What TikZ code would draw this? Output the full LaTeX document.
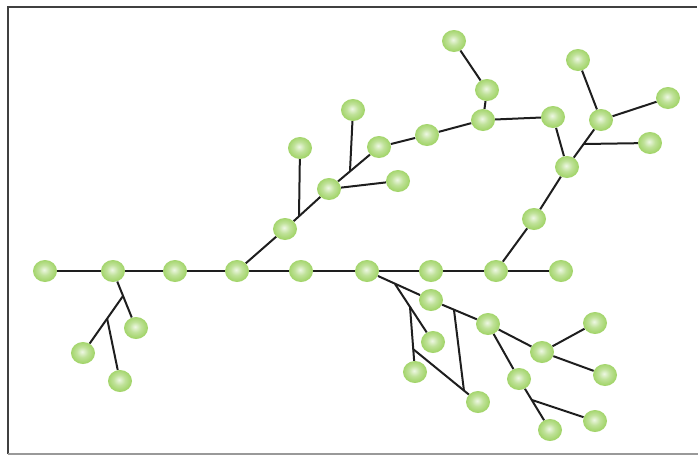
\documentclass[tikz,border=0pt]{standalone}
\usepackage{tikz}
\usetikzlibrary{shapes.geometric,backgrounds}

\definecolor{ballgreen}{RGB}{140,202,70}
\definecolor{linegray}{RGB}{30,30,30}
\pgfdeclareradialshading{greenball}{\pgfpoint{-2bp}{3bp}}{%
  color(0bp)=(white!85!ballgreen); color(12bp)=(white!45!ballgreen);
  color(30bp)=(ballgreen!92!white); color(50bp)=(ballgreen!95!black)}

\begin{document}
\begin{tikzpicture}[%
    x=1pt, y=-1pt,
    ball/.style={ellipse, minimum width=24pt, minimum height=22pt, inner sep=0pt, shading=greenball},
    link/.style={line width=2pt, draw=linegray},
    frame/.style={line width=1.4pt}
    ]

    \useasboundingbox (0,0) rectangle (698,456);

    % frame
    \draw[frame, draw=black!75] (8,454) -- (8,7) -- (697,7);
    \draw[frame, draw=black!40] (8,454) -- (698,454);

    % main line
    \node[ball] (a1) at (45,271) {};
    \node[ball] (a2) at (113,271) {};
    \node[ball] (a3) at (175,271) {};
    \node[ball] (a4) at (237,271) {};
    \node[ball] (a5) at (301,271) {};
    \node[ball] (a6) at (367,271) {};
    \node[ball] (a7) at (431,271) {};
    \node[ball] (a8) at (496,271) {};
    \node[ball] (a9) at (561,271) {};

    % lower left
    \node[ball] (b1) at (136,328) {};
    \node[ball] (b2) at (83,353) {};
    \node[ball] (b3) at (120,381) {};

    % upper arc
    \node[ball] (c1) at (285,229) {};
    \node[ball] (c2) at (329,189) {};
    \node[ball] (c3) at (379,147) {};
    \node[ball] (c4) at (427,135) {};
    \node[ball] (c5) at (483,120) {};
    \node[ball] (c6) at (553,117) {};
    \node[ball] (c7) at (567,167) {};
    \node[ball] (c8) at (534,219) {};

    \node[ball] (d1) at (487,90) {};
    \node[ball] (d2) at (454,41) {};

    \node[ball] (e1) at (601,120) {};
    \node[ball] (e2) at (668,98) {};
    \node[ball] (e3) at (578,60) {};
    \node[ball] (e4) at (650,143) {};

    \node[ball] (f1) at (300,148) {};
    \node[ball] (f2) at (353,110) {};
    \node[ball] (f3) at (398,181) {};

    % lower right
    \node[ball] (g1) at (431,300) {};
    \node[ball] (g2) at (488,324) {};
    \node[ball] (g3) at (433,342) {};
    \node[ball] (g4) at (415,372) {};
    \node[ball] (g5) at (478,402) {};
    \node[ball] (g6) at (542,352) {};
    \node[ball] (g7) at (595,323) {};
    \node[ball] (g8) at (605,375) {};
    \node[ball] (g9) at (519,379) {};
    \node[ball] (g10) at (550,430) {};
    \node[ball] (g11) at (595,421) {};

    % branch points
    \coordinate (jb1) at (123,296);
    \coordinate (jb2) at (107,318);
    \coordinate (jf1) at (299,216);
    \coordinate (jf2) at (350,171);
    \coordinate (je) at (584,144);
    \coordinate (jg1) at (395,284);
    \coordinate (jg2) at (410,307);
    \coordinate (jg3) at (413,349);
    \coordinate (jg4) at (454,310);
    \coordinate (jg5) at (464,391);
    \coordinate (jg6) at (532,400);

    \begin{scope}[on background layer]
        \draw[link] (a1) -- (a2) -- (a3) -- (a4) -- (a5) -- (a6) -- (a7) -- (a8) -- (a9);
        \draw[link] (a2) -- (b1);
        \draw[link] (jb1) -- (b2);
        \draw[link] (jb2) -- (b3);

        \draw[link] (a4) -- (c1) -- (c2) -- (c3) -- (c4) -- (c5) -- (c6) -- (c7) -- (c8) -- (a8);
        \draw[link] (jf1) -- (f1);
        \draw[link] (jf2) -- (f2);
        \draw[link] (c2) -- (f3);
        \draw[link] (c5) -- (d1) -- (d2);
        \draw[link] (c7) -- (e1) -- (e2);
        \draw[link] (e1) -- (e3);
        \draw[link] (je) -- (e4);

        \draw[link] (a6) -- (g1) -- (g2);
        \draw[link] (jg1) -- (g3);
        \draw[link] (jg2) -- (g4);
        \draw[link] (jg3) -- (g5);
        \draw[link] (jg4) -- (jg5);
        \draw[link] (g2) -- (g6) -- (g7);
        \draw[link] (g6) -- (g8);
        \draw[link] (g2) -- (g9) -- (g10);
        \draw[link] (jg6) -- (g11);
    \end{scope}

\end{tikzpicture}
\end{document}
